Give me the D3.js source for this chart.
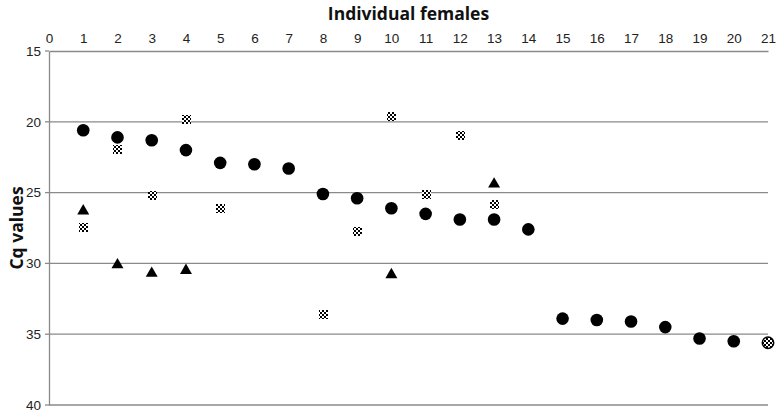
<!DOCTYPE html>
<html>
<head>
<meta charset="utf-8">
<script src="https://cdn.jsdelivr.net/npm/d3@7"></script>
<style>
  html, body { margin: 0; padding: 0; background: #fff; }
  svg { display: block; font-family: "Open Sans", "Liberation Sans", sans-serif; }
</style>
</head>
<body>
<svg id="chart" width="777" height="414"></svg>
<script>
// ---- data ----
const xTicks = d3.range(0, 22);
const yTicks = [15, 20, 25, 30, 35, 40];

const circleX = [1,2,3,4,5,6,7,8,9,10,11,12,13,14,15,16,17,18,19,20];
const circleY = [20.6,21.1,21.3,22.0,22.9,23.0,23.3,25.1,25.4,26.1,26.5,26.9,26.9,27.6,33.9,34.0,34.1,34.5,35.3,35.5];

const triX = [1, 2, 3, 4, 10, 13];
const triY = [26.3, 30.1, 30.7, 30.5, 30.8, 24.4];

const chkX = [1, 2, 3, 4, 5, 8, 9, 10, 11, 12, 13];
const chkY = [27.4, 21.9, 25.2, 19.8, 26.1, 33.6, 27.7, 19.6, 25.1, 20.9, 25.8];

const mixX = [21];
const mixY = [35.6];

// ---- layout ----
const svg = d3.select("#chart");
const mLeft = 49, mRight = 768, mTop = 51, mBottom = 405;
const x = d3.scaleLinear().domain([0, 21]).range([mLeft, mRight]);
const y = d3.scaleLinear().domain([15, 40]).range([mTop, mBottom]);
const gridColor = "#8a8a8a";

// checker pattern
const defs = svg.append("defs");
const pat = defs.append("pattern").attr("id", "chk")
  .attr("patternUnits", "userSpaceOnUse").attr("width", 4).attr("height", 4);
pat.append("rect").attr("width", 4).attr("height", 4).attr("fill", "#fff");
pat.append("rect").attr("width", 2).attr("height", 2).attr("fill", "#000");
pat.append("rect").attr("x", 2).attr("y", 2).attr("width", 2).attr("height", 2).attr("fill", "#000");

// gridlines
svg.append("g").selectAll("line").data(yTicks.filter(d => d !== 15)).join("line")
  .attr("x1", mLeft).attr("x2", mRight)
  .attr("y1", d => y(d)).attr("y2", d => y(d))
  .attr("stroke", gridColor).attr("stroke-width", 1.3);

// top x axis
const xAxis = d3.axisTop(x).tickValues(xTicks).tickSize(0).tickPadding(8).tickFormat(d3.format("d"));
const gx = svg.append("g").attr("transform", `translate(0,${mTop})`).call(xAxis);
gx.select(".domain").attr("stroke", gridColor).attr("stroke-width", 1.3);
gx.selectAll("text").attr("font-size", 13.5).attr("fill", "#222");

// left y axis
const yAxis = d3.axisLeft(y).tickValues(yTicks).tickSize(0).tickPadding(8);
const gy = svg.append("g").attr("transform", `translate(${mLeft},0)`).call(yAxis);
gy.select(".domain").attr("stroke", gridColor).attr("stroke-width", 1.3);
gy.selectAll("text").attr("font-size", 13.5).attr("fill", "#222");
gy.selectAll(".tick line").remove();

// small outer tick stubs
svg.append("g").selectAll("line").data(yTicks).join("line")
  .attr("x1", mLeft - 4).attr("x2", mLeft)
  .attr("y1", d => y(d)).attr("y2", d => y(d))
  .attr("stroke", gridColor).attr("stroke-width", 1.3);

// titles
svg.append("text").attr("x", (mLeft + mRight) / 2).attr("y", 20)
  .attr("text-anchor", "middle").attr("font-weight", "bold").attr("font-size", 17.5)
  .attr("fill", "#111").text("Individual females");
svg.append("text").attr("transform", `translate(23,${(mTop + mBottom) / 2}) rotate(-90)`)
  .attr("text-anchor", "middle").attr("font-weight", "bold").attr("font-size", 17.5)
  .attr("fill", "#111").text("Cq values");

// circles
svg.append("g").selectAll("circle").data(circleX.map((d, i) => [d, circleY[i]])).join("circle")
  .attr("cx", d => x(d[0])).attr("cy", d => y(d[1])).attr("r", 6.3).attr("fill", "#000");

// triangles
const triPath = d3.symbol().type(d3.symbolTriangle).size(62);
svg.append("g").selectAll("path").data(triX.map((d, i) => [d, triY[i]])).join("path")
  .attr("d", triPath)
  .attr("transform", d => `translate(${x(d[0])},${y(d[1])})`)
  .attr("fill", "#000");

// checkered squares
svg.append("g").selectAll("rect").data(chkX.map((d, i) => [d, chkY[i]])).join("rect")
  .attr("x", d => Math.round(x(d[0])) - 4).attr("y", d => Math.round(y(d[1])) - 4)
  .attr("width", 9).attr("height", 9)
  .attr("fill", "url(#chk)");

// mixed point at 21 (circle with checker fill)
svg.append("g").selectAll("circle").data(mixX.map((d, i) => [d, mixY[i]])).join("circle")
  .attr("cx", d => x(d[0])).attr("cy", d => y(d[1])).attr("r", 5.7)
  .attr("fill", "url(#chk)").attr("stroke", "#000").attr("stroke-width", 1.5);
</script>
</body>
</html>
